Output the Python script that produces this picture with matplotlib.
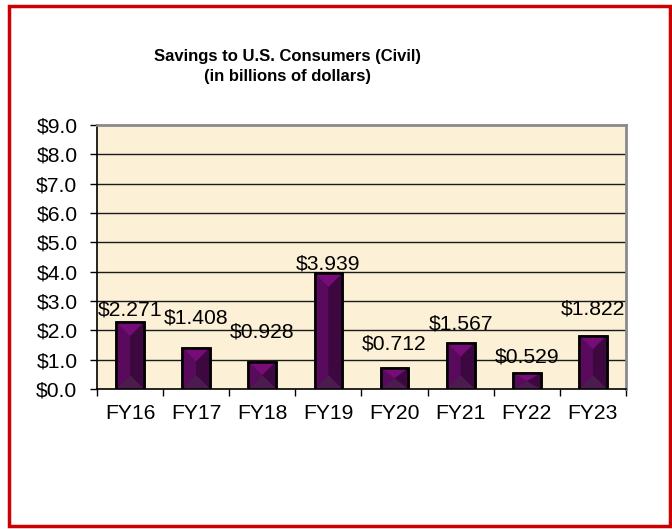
import matplotlib
matplotlib.use("Agg")
import matplotlib.pyplot as plt
from matplotlib.patches import Polygon, Rectangle

categories = ["FY16", "FY17", "FY18", "FY19", "FY20", "FY21", "FY22", "FY23"]
values = [2.271, 1.408, 0.928, 3.939, 0.712, 1.567, 0.529, 1.822]
labels = ["$2.271", "$1.408", "$0.928", "$3.939", "$0.712", "$1.567", "$0.529", "$1.822"]
yticks = [0, 1, 2, 3, 4, 5, 6, 7, 8, 9]
ytick_labels = ["$0.0", "$1.0", "$2.0", "$3.0", "$4.0", "$5.0", "$6.0", "$7.0", "$8.0", "$9.0"]
title = "Savings to U.S. Consumers (Civil)\n(in billions of dollars)"

# label gap above each bar (pixels) - layout only
label_gap_px = [6, 23, 23, 3, 17, 12, 10, 20]

plt.rcParams['font.family'] = ['Liberation Sans', 'DejaVu Sans']

fig = plt.figure(figsize=(6.72, 5.29), dpi=100)
fig.patch.set_facecolor('white')
ax = fig.add_axes([0.1443, 0.2647, 0.7872, 0.499])
ax.set_facecolor('#FCF0D6')

bw = 0.42
xs = list(range(len(categories)))
ax.set_xlim(-0.5, len(categories) - 0.5)
ax.set_ylim(0, 9)

for t in yticks[1:-1]:
    ax.axhline(t, color='#1a1a1a', lw=1.0, zorder=1)

ax.bar(xs, values, width=bw, color='#4A0A4C', edgecolor='black', linewidth=1.8, zorder=3)

ypp = 9 / (0.499 * 529)
half_px = bw / 2 * (0.7872 * 672) / len(categories)
lfs = 15.2
for x, v in zip(xs, values):
    x0, x1, xc = x - bw / 2, x + bw / 2, x
    d = min(half_px * ypp, v / 2)
    faces = [
        ([(x0, v), (x1, v), (xc, v - d)], '#760C78'),
        ([(x0, v), (xc, v - d), (xc, d), (x0, 0)], '#5A0A5D'),
        ([(x1, v), (xc, v - d), (xc, d), (x1, 0)], '#3D0740'),
        ([(x0, 0), (x1, 0), (xc, d)], '#4B1C4D'),
    ]
    for pts, c in faces:
        ax.add_patch(Polygon(pts, closed=True, facecolor=c, edgecolor='none', zorder=3.5))
    ax.add_patch(Rectangle((x0, 0), bw, v, fill=False, edgecolor='black', linewidth=1.8, zorder=4))
    ax.annotate(labels[x], (x, v), xytext=(0, label_gap_px[x] * 0.72 - 2), textcoords='offset points',
                ha='center', va='bottom', fontsize=lfs, color='black', zorder=5)

ax.set_yticks(yticks)
ax.set_yticklabels(ytick_labels, fontsize=lfs)
ax.tick_params(axis='y', direction='out', length=5, width=1, pad=9)

ax.set_xticks(xs)
ax.set_xticklabels(categories, fontsize=lfs)
ax.set_xticks([i - 0.5 for i in range(len(categories) + 1)], minor=True)
ax.tick_params(axis='x', which='major', length=0, pad=11)
ax.tick_params(axis='x', which='minor', direction='out', length=5, width=1)

for s in ['left', 'bottom']:
    ax.spines[s].set_color('black')
    ax.spines[s].set_linewidth(1.2)
for s in ['top', 'right']:
    ax.spines[s].set_color('#8a8a8a')
    ax.spines[s].set_linewidth(2)

fig.text(0.428, 0.874, title, ha='center', va='center', fontsize=12,
         fontweight='bold', linespacing=1.45)

fig.add_artist(Rectangle((0.0135, 0.005), 0.983, 0.984, transform=fig.transFigure,
                         fill=False, edgecolor='#CC0000', linewidth=2.5))

fig.savefig('out.png', dpi=100)
